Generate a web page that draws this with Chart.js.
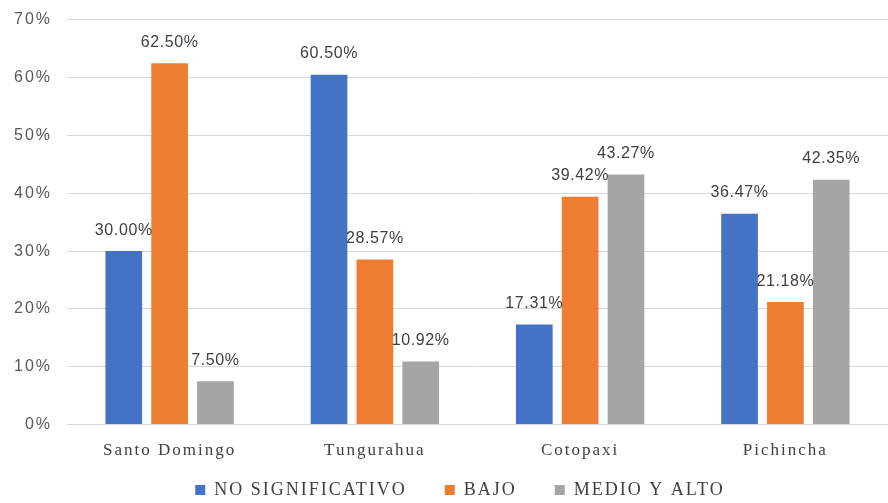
<!DOCTYPE html>
<html>
<head>
<meta charset="utf-8">
<script src="https://cdn.jsdelivr.net/npm/chart.js@4.4.1/dist/chart.umd.min.js"></script>
<style>
  html, body { margin: 0; padding: 0; background: #fff; }
  #wrap { width: 888px; height: 503px; position: relative; }
</style>
</head>
<body>
<div id="wrap"><canvas id="chart"></canvas></div>
<script>
const categories = ["Santo Domingo", "Tungurahua", "Cotopaxi", "Pichincha"];
const noSignificativo = [30.00, 60.50, 17.31, 36.47];
const bajo = [62.50, 28.57, 39.42, 21.18];
const medioYAlto = [7.50, 10.92, 43.27, 42.35];
const seriesNames = ["NO SIGNIFICATIVO", "BAJO", "MEDIO Y ALTO"];
const yTicks = [0, 10, 20, 30, 40, 50, 60, 70];

const sansFont = "'Liberation Sans', Arial, sans-serif";
const serifFont = "'Liberation Serif', 'Times New Roman', serif";

// the original text is rendered quite wide, so space the letters out a bit
const wideText = {
  id: "wideText",
  beforeLayout(chart) { chart.ctx.letterSpacing = "2px"; },
  beforeDraw(chart) { chart.ctx.letterSpacing = "2px"; },
  // legend sits a little right of centre and close under the category names
  afterLayout(chart) {
    const lg = chart.legend;
    lg.left += 16; lg.right += 16;
    lg.top -= 34; lg.bottom -= 34;
  }
};

// draws the value above each bar
const barLabels = {
  id: "barLabels",
  afterDatasetsDraw(chart) {
    const ctx = chart.ctx;
    ctx.save();
    ctx.letterSpacing = "0.6px";
    ctx.font = "16px " + sansFont;
    ctx.fillStyle = "#404040";
    ctx.textAlign = "center";
    ctx.textBaseline = "bottom";
    chart.data.datasets.forEach((ds, i) => {
      chart.getDatasetMeta(i).data.forEach((bar, j) => {
        ctx.fillText(ds.data[j].toFixed(2) + "%", bar.x, bar.y - 13);
      });
    });
    ctx.restore();
  }
};

const ctx = document.getElementById("chart").getContext("2d");
new Chart(ctx, {
  type: "bar",
  data: {
    labels: categories,
    datasets: [
      { label: seriesNames[0], data: noSignificativo, backgroundColor: "#4472C4" },
      { label: seriesNames[1], data: bajo, backgroundColor: "#ED7D31" },
      { label: seriesNames[2], data: medioYAlto, backgroundColor: "#A5A5A5" }
    ]
  },
  options: {
    responsive: true,
    maintainAspectRatio: false,
    animation: false,
    layout: { padding: { top: 0, right: 0, left: 0, bottom: -40 } },
    datasets: { bar: { categoryPercentage: 0.67, barPercentage: 0.8 } },
    scales: {
      x: {
        grid: { display: false, drawTicks: false },
        border: { color: "#d9d9d9" },
        ticks: { color: "#404040", font: { family: serifFont, size: 17 }, padding: 16 }
      },
      y: {
        min: 0,
        max: 70,
        afterBuildTicks: (axis) => { axis.ticks = yTicks.map(v => ({ value: v })); },
        afterFit: (axis) => { axis.width = 67; },
        grid: { color: "#d9d9d9", drawTicks: false },
        border: { display: false },
        ticks: {
          color: "#595959",
          padding: 15,
          font: { family: sansFont, size: 16, lineHeight: 0.6 },
          callback: (v) => v + "%"
        }
      }
    },
    plugins: {
      legend: {
        position: "bottom",
        labels: {
          color: "#404040",
          boxWidth: 10,
          boxHeight: 10,
          padding: 38,
          font: { family: serifFont, size: 18 }
        }
      },
      tooltip: { enabled: false }
    }
  },
  plugins: [wideText, barLabels]
});
</script>
</body>
</html>
